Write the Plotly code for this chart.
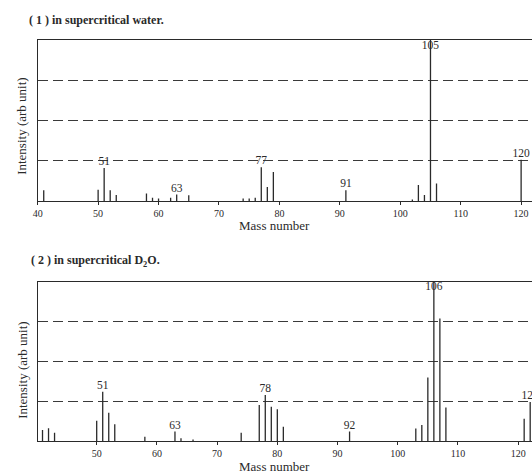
import plotly.graph_objects as go

# ---- data ----
masses_water = [41, 50, 51, 52, 53, 58, 59, 60, 62, 63, 65, 74, 75, 76, 77, 78, 79, 91, 102, 103, 104, 105, 106, 120]
inten_water = [6.7, 7, 20.5, 6.7, 3.7, 4.7, 2, 1.5, 2, 4, 3.5, 1.5, 1.5, 2, 21, 8.7, 18, 6.7, 1, 10, 3.7, 100, 10.8, 25.6]
labels_water = [51, 63, 77, 91, 105, 120]

masses_d2o = [41, 42, 43, 50, 51, 52, 53, 58, 63, 64, 66, 74, 77, 78, 79, 80, 81, 92, 103, 104, 105, 106, 107, 108, 121, 122]
inten_d2o = [6.9, 8, 5.2, 12.8, 31, 17.8, 10.5, 2.7, 5.9, 1.7, 1, 5.2, 22.6, 29, 21.6, 20, 9, 5.9, 7.8, 10, 40, 100, 77, 21, 14, 24.5]
labels_d2o = [51, 63, 78, 92, 106, 122]

x_ticks = [40, 50, 60, 70, 80, 90, 100, 110, 120]
grid_levels = [25, 50, 75]

W, H = 532, 474
SERIF = "Liberation Serif, Times New Roman, serif"
INK = "#2a2a2a"


def py(px):
    return 1 - px / H


def stems(m, h):
    xs, ys = [], []
    for a, b in zip(m, h):
        xs += [a, a, None]
        ys += [0, b, None]
    return xs, ys


fig = go.Figure()

panels = [
    (masses_water, inten_water, labels_water, "x", "y"),
    (masses_d2o, inten_d2o, labels_d2o, "x2", "y2"),
]
for m, h, labs, xa, ya in panels:
    xs, ys = stems(m, h)
    fig.add_trace(go.Scatter(x=xs, y=ys, mode="lines", xaxis=xa, yaxis=ya,
                             line=dict(color=INK, width=1.3), hoverinfo="skip",
                             showlegend=False, cliponaxis=False))
    lx, ly, lt, lp = [], [], [], []
    for lab in labs:
        hv = h[m.index(lab)]
        lx.append(lab)
        if hv >= 99:
            ly.append(96.5)
            lp.append("middle center")
        else:
            ly.append(hv)
            lp.append("top center")
        lt.append(str(lab))
    fig.add_trace(go.Scatter(x=lx, y=ly, mode="text", text=lt, textposition=lp,
                             xaxis=xa, yaxis=ya, showlegend=False, hoverinfo="skip",
                             cliponaxis=False,
                             textfont=dict(family=SERIF, size=11.5, color=INK)))

x0 = 33 / W
common_x = dict(tickvals=x_ticks, ticks="outside", ticklen=3, tickcolor=INK,
                showline=True, linecolor=INK, linewidth=1.3, mirror=True,
                showgrid=False, zeroline=False,
                tickfont=dict(family=SERIF, size=10, color=INK))
common_y = dict(range=[0, 100], tickvals=grid_levels, showticklabels=False, ticks="",
                showgrid=True, gridcolor="#3a3a3a", gridwidth=1, griddash="10px,5px",
                showline=True, linecolor=INK, linewidth=1.3, mirror=False, zeroline=False)

fig.update_layout(
    width=W, height=H,
    margin=dict(l=0, r=0, t=0, b=0),
    paper_bgcolor="white", plot_bgcolor="white",
    xaxis=dict(domain=[x0, 1], range=[40, 121.8], anchor="y", **common_x),
    yaxis=dict(domain=[py(201), py(40)], anchor="x", **common_y),
    xaxis2=dict(domain=[x0, 1], range=[40.2, 122.3], anchor="y2", **common_x),
    yaxis2=dict(domain=[py(441), py(282)], anchor="x2", **common_y),
)

ann = [
    dict(text="<b>( 1 ) in supercritical water.</b>", x=22 / W, y=py(20), xanchor="left",
         yanchor="middle", font=dict(family=SERIF, size=12, color=INK)),
    dict(text="<b>( 2 ) in supercritical D<sub>2</sub>O.</b>", x=24 / W, y=py(261), xanchor="left",
         yanchor="middle", font=dict(family=SERIF, size=12, color=INK)),
    dict(text="Mass number", x=272 / W, y=py(226), xanchor="center", yanchor="middle",
         font=dict(family=SERIF, size=13, color=INK)),
    dict(text="Mass number", x=272 / W, y=py(466), xanchor="center", yanchor="middle",
         font=dict(family=SERIF, size=13, color=INK)),
    dict(text="Intensity (arb unit)", x=17 / W, y=py(126), textangle=-90, xanchor="center",
         yanchor="middle", font=dict(family=SERIF, size=13, color=INK)),
    dict(text="Intensity (arb unit)", x=17 / W, y=py(370), textangle=-90, xanchor="center",
         yanchor="middle", font=dict(family=SERIF, size=13, color=INK)),
]
for a in ann:
    a.update(xref="paper", yref="paper", showarrow=False)
fig.update_layout(annotations=ann)

fig.write_html(
    "out.html",
    config={"displayModeBar": False},
    post_script="document.body.style.margin='0';document.body.style.overflow='hidden';",
)
